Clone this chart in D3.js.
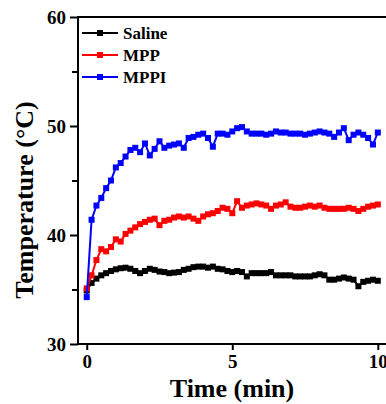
<!DOCTYPE html>
<html>
<head>
<meta charset="utf-8">
<script src="https://cdn.jsdelivr.net/npm/d3@7"></script>
<style>
  html, body { margin: 0; padding: 0; background: #fff; }
  svg { display: block; }
  text { font-family: "Liberation Serif", "Times New Roman", serif; font-weight: bold; fill: #000; }
</style>
</head>
<body>
<svg id="chart" width="386" height="404"></svg>
<script>
// ---- data ----
const timeMin = d3.range(61).map(i => i / 6); // sampled every 10 s
const saline = [34.9,35.6,36.0,36.3,36.5,36.7,36.85,36.95,37.0,36.9,
  36.7,36.5,36.7,36.9,36.8,36.65,36.6,36.5,36.55,36.6,
  36.8,36.9,37.05,37.1,37.1,37.0,37.1,36.9,36.85,36.7,
  36.6,36.7,36.6,36.2,36.5,36.5,36.5,36.5,36.6,36.3,
  36.3,36.3,36.3,36.2,36.2,36.2,36.2,36.3,36.4,36.3,
  35.9,35.9,36.0,36.1,36.0,35.9,35.3,35.7,35.8,35.9,35.8];
const mpp = [35.1,36.3,37.7,38.7,38.5,38.9,39.6,39.4,40.1,40.4,
  40.7,41.0,41.2,41.4,41.5,40.9,41.3,41.4,41.6,41.7,
  41.6,41.7,41.5,41.3,41.7,41.9,42.0,42.2,42.5,42.4,
  42.0,43.1,42.5,42.7,42.8,42.9,42.8,42.7,42.4,42.7,
  42.8,43.0,42.6,42.5,42.5,42.6,42.7,42.6,42.7,42.5,
  42.4,42.4,42.4,42.4,42.5,42.4,42.2,42.4,42.6,42.7,42.8];
const mppi = [34.3,41.4,42.7,43.4,44.3,45.0,46.2,46.6,47.2,47.8,
  48.0,47.6,48.4,47.3,47.9,48.6,48.0,48.2,48.3,48.4,
  48.0,48.9,49.0,49.2,49.3,48.9,48.1,49.3,49.3,49.2,
  49.5,49.8,49.9,49.5,49.3,49.3,49.3,49.2,49.3,49.5,
  49.4,49.4,49.3,49.3,49.3,49.2,49.3,49.4,49.5,49.4,
  49.3,49.0,49.4,49.8,48.7,49.2,49.4,49.2,48.9,48.3,49.4];
const seriesNames = ["Saline", "MPP", "MPPI"];
const seriesColors = ["#000000", "#ff0000", "#0000ff"];
const xTicks = [0, 5, 10];
const yTicks = [30, 40, 50, 60];
const yMinorTicks = [35, 45, 55];
const xLabel = "Time (min)";
const yLabel = "Temperature (°C)";

// ---- layout ----
const svg = d3.select("#chart");
const mLeft = 78, mRight = 388, mTop = 17, mBottom = 344;
const x = d3.scaleLinear().domain([-0.3, 10.35]).range([mLeft, mRight]);
const y = d3.scaleLinear().domain([30, 60]).range([mBottom, mTop]);

const allSeries = [saline, mpp, mppi];

// series
const line = d3.line().x((d, i) => x(timeMin[i])).y(d => y(d));
allSeries.forEach((vals, k) => {
  const g = svg.append("g");
  g.append("path").datum(vals)
    .attr("d", line).attr("fill", "none")
    .attr("stroke", seriesColors[k]).attr("stroke-width", 2);
  g.selectAll("rect").data(vals).join("rect")
    .attr("x", (d, i) => x(timeMin[i]) - 3)
    .attr("y", d => y(d) - 3)
    .attr("width", 6).attr("height", 6)
    .attr("fill", seriesColors[k]);
});

// frame
svg.append("rect").attr("x", mLeft).attr("y", mTop)
  .attr("width", mRight - mLeft).attr("height", mBottom - mTop)
  .attr("fill", "none").attr("stroke", "#000").attr("stroke-width", 2);

// axes
const yAxis = svg.append("g").attr("transform", `translate(${mLeft},0)`)
  .call(d3.axisLeft(y).tickValues(yTicks).tickSize(8).tickPadding(4).tickSizeOuter(0));
const yMinor = svg.append("g").attr("transform", `translate(${mLeft},0)`)
  .call(d3.axisLeft(y).tickValues(yMinorTicks).tickSize(6).tickFormat("").tickSizeOuter(0));
const xAxis = svg.append("g").attr("transform", `translate(0,${mBottom})`)
  .call(d3.axisBottom(x).tickValues(xTicks).tickSize(6).tickPadding(5).tickSizeOuter(0));
[yAxis, yMinor, xAxis].forEach(a => {
  a.select(".domain").remove();
  a.selectAll(".tick line").attr("stroke", "#000").attr("stroke-width", 2);
  a.selectAll(".tick text")
    .style("font-family", '"Liberation Serif", serif')
    .style("font-weight", "bold").style("font-size", "19px").attr("fill", "#000");
});

// axis titles
svg.append("text").attr("x", 232).attr("y", 397)
  .attr("text-anchor", "middle").style("font-size", "26px").text(xLabel);
svg.append("text").attr("transform", "translate(33,200) rotate(-90)")
  .attr("text-anchor", "middle").style("font-size", "26px").text(yLabel);

// legend
const legY = [33, 55, 77];
seriesNames.forEach((name, k) => {
  const g = svg.append("g");
  g.append("line").attr("x1", 82).attr("x2", 118)
    .attr("y1", legY[k]).attr("y2", legY[k])
    .attr("stroke", seriesColors[k]).attr("stroke-width", 2);
  g.append("rect").attr("x", 97).attr("y", legY[k] - 3)
    .attr("width", 6).attr("height", 6).attr("fill", seriesColors[k]);
  g.append("text").attr("x", 123).attr("y", legY[k] + 6)
    .style("font-size", "17px").text(name);
});
</script>
</body>
</html>
